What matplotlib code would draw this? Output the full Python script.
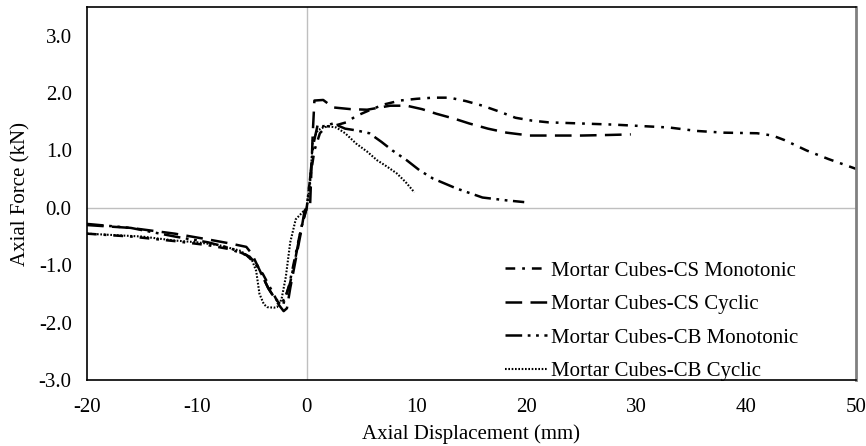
import matplotlib
matplotlib.use('Agg')
import matplotlib.pyplot as plt

plt.rcParams['font.family'] = ['Liberation Serif', 'DejaVu Serif']
plt.rcParams['axes.unicode_minus'] = False
plt.rcParams['lines.scale_dashes'] = False

# Mortar Cubes-CS Monotonic
cs_mono_x = [-20, -16, -12, -9, -7, -5.5, -4.8, -4, -3.3, -2.7, -2.2, -1.6, -1, -0.5, 0,
             0.3, 0.7, 1.2, 1.8, 2.5, 3.6, 4.5, 5.7, 7, 8.5, 10, 11.5, 13, 14.5, 16,
             17.5, 19, 20.5, 22, 25, 28, 31, 33, 35.5, 38, 41, 42.4, 43.5, 45.5, 47.5,
             49.7, 50]
cs_mono_y = [-0.45, -0.5, -0.58, -0.65, -0.72, -0.82, -0.95, -1.15, -1.4, -1.62, -1.72,
             -1.35, -0.8, -0.35, 0.0, 0.5, 1.0, 1.3, 1.42, 1.43, 1.49, 1.6, 1.7, 1.8,
             1.87, 1.9, 1.92, 1.92, 1.86, 1.78, 1.68, 1.57, 1.52, 1.49, 1.47, 1.45,
             1.42, 1.4, 1.34, 1.31, 1.3, 1.26, 1.18, 1.0, 0.85, 0.7, 0.68]

# Mortar Cubes-CS Cyclic
cs_cyc_x = [-20, -16, -12, -9, -7, -5.5, -5, -4.5, -4, -3.5, -3, -2.5, -2.1, -1.8, -1.5,
            -1, -0.5, -0.2, 0.3, 0.55, 0.7, 1.5, 2.4, 4, 5.5, 7.6, 9.1, 10.5, 11.8, 13.5,
            14.8, 16.5, 18.2, 20.3, 22, 25, 27.5, 29.5]
cs_cyc_y = [-0.3, -0.35, -0.45, -0.55, -0.62, -0.68, -0.8, -1.0, -1.2, -1.4, -1.55, -1.7,
            -1.8, -1.75, -1.4, -0.9, -0.4, -0.05, 0.0, 1.3, 1.87, 1.88, 1.75, 1.72, 1.71,
            1.78, 1.78, 1.72, 1.64, 1.55, 1.47, 1.38, 1.31, 1.26, 1.26, 1.26, 1.27, 1.28]

# Mortar Cubes-CB Monotonic
cb_mono_x = [-20, -16, -12, -9, -7, -6, -5.2, -4.5, -4, -3.5, -3, -2.5, -2, -1.5, -1, -0.5,
             0, 0.3, 0.6, 1.0, 1.5, 2.4, 3.5, 4.5, 5.7, 6.8, 7.8, 9.1, 10.3, 11.5, 13.6,
             16, 18.2, 19.8]
cb_mono_y = [-0.28, -0.35, -0.5, -0.6, -0.7, -0.78, -0.85, -1.0, -1.2, -1.4, -1.55, -1.65,
             -1.6, -1.3, -0.85, -0.35, 0.0, 0.5, 1.1, 1.45, 1.42, 1.47, 1.38, 1.35, 1.3,
             1.15, 1.0, 0.83, 0.65, 0.51, 0.34, 0.18, 0.13, 0.10]

# Mortar Cubes-CB Cyclic
cb_cyc_x = [-20, -15, -12, -10, -8, -6, -5, -4.6, -4.3, -3.9, -3.6, -3, -2.7, -2.3, -1.9,
            -1.5, -1, -0.5, 0, 0.3, 0.55, 1.0, 1.5, 2.0, 2.7, 3.5, 4.5, 5.5, 6.4, 7.3,
            8.2, 9.0, 9.8]
cb_cyc_y = [-0.45, -0.5, -0.57, -0.6, -0.65, -0.75, -0.9, -1.1, -1.5, -1.68, -1.73, -1.74,
            -1.73, -1.6, -1.2, -0.6, -0.2, -0.1, 0.0, 0.4, 1.17, 1.35, 1.4, 1.42, 1.4, 1.3,
            1.12, 0.98, 0.83, 0.72, 0.6, 0.45, 0.27]

fs = 15

fig = plt.figure(figsize=(8.66, 4.46), dpi=100)
ax = fig.add_axes([87 / 866, 1 - 380 / 446, (856 - 87) / 866, (380 - 7) / 446])

ax.axhline(0, color='#bfbfbf', lw=1, zorder=1)
ax.axvline(0, color='#bfbfbf', lw=1, zorder=1)

ax.plot(cs_mono_x, cs_mono_y, color='black', lw=1.8, dashes=(7, 5, 2, 5),
        label='Mortar Cubes-CS Monotonic')
ax.plot(cs_cyc_x, cs_cyc_y, color='black', lw=1.8, dashes=(12, 6),
        label='Mortar Cubes-CS Cyclic')
ax.plot(cb_mono_x, cb_mono_y, color='black', lw=1.8, dashes=(12, 4, 2, 4, 2, 4),
        label='Mortar Cubes-CB Monotonic')
ax.plot(cb_cyc_x, cb_cyc_y, color='black', lw=1.5, dashes=(1.2, 1.2),
        label='Mortar Cubes-CB Cyclic')

ax.set_xlim(-20, 50)
ax.set_ylim(-3, 3.5)
ax.set_xticks(range(-20, 51, 10))
ax.set_yticks([-3, -2, -1, 0, 1, 2, 3])
ax.set_yticklabels(['%.1f' % v for v in [-3, -2, -1, 0, 1, 2, 3]])
ax.tick_params(length=0, labelsize=fs)
ax.tick_params(axis='y', pad=11)
ax.tick_params(axis='x', pad=13)

for s in ['left', 'bottom', 'top']:
    ax.spines[s].set_color('black')
    ax.spines[s].set_linewidth(1.2)
ax.spines['right'].set_color('#808080')
ax.spines['right'].set_linewidth(2)

ax.set_xlabel('Axial Displacement (mm)', fontsize=fs, labelpad=5)
ax.set_ylabel('Axial Force (kN)', fontsize=fs, labelpad=6)

ax.legend(loc='upper left', bbox_to_anchor=(505 / 866, 1 - 261 / 446),
          bbox_transform=fig.transFigure, frameon=False, fontsize=fs,
          handlelength=2.0, handletextpad=0.2, labelspacing=0.67,
          borderpad=0, borderaxespad=0)

fig.savefig('out.png', dpi=100)
